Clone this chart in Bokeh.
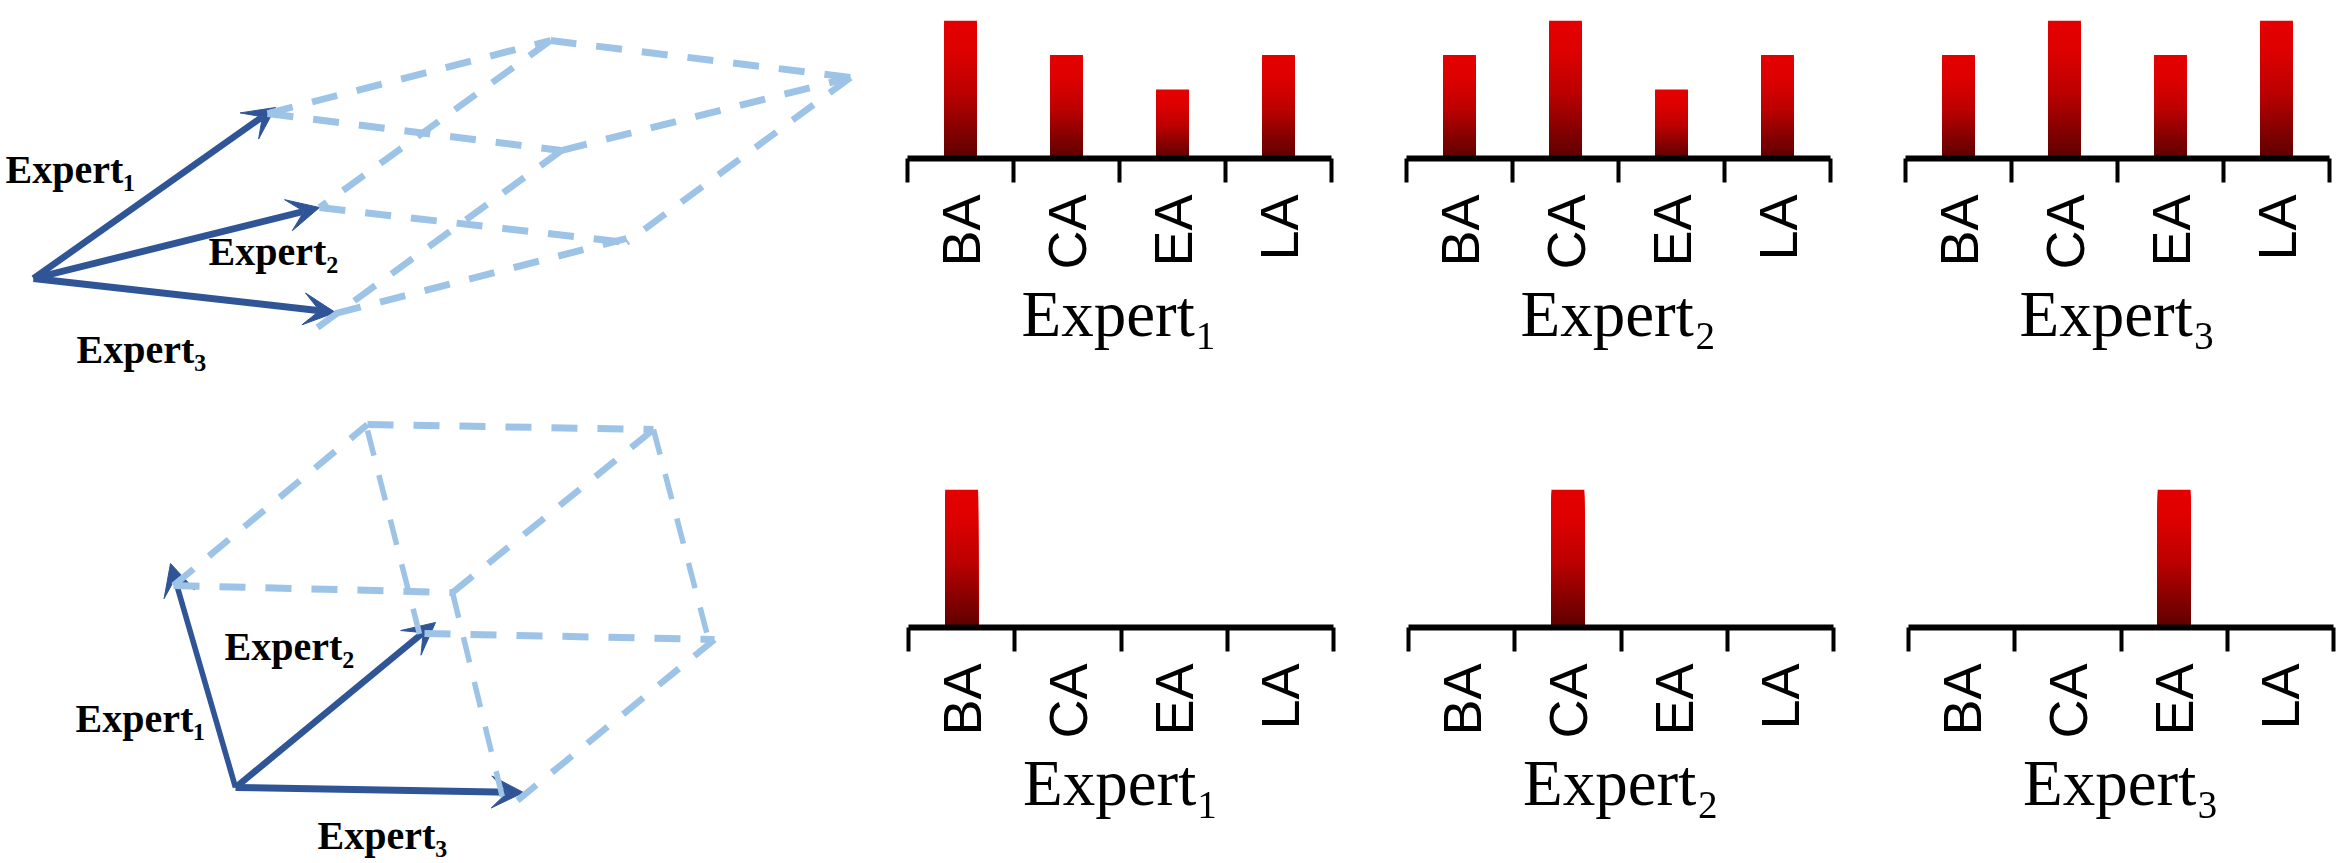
from bokeh.plotting import figure
from bokeh.embed import file_html
from bokeh.resources import INLINE
from bokeh.layouts import row, column
from bokeh.core.properties import value
from bokeh.models import Range1d, LinearAxis, FixedTicker, Arrow, VeeHead
from math import pi, hypot

# ---- data -------------------------------------------------------------
categories = ["BA", "CA", "EA", "LA"]
expert_titles = ["Expert\u2081", "Expert\u2082", "Expert\u2083"]

top_expert1 = [0.4, 0.3, 0.2, 0.3]
top_expert2 = [0.3, 0.4, 0.2, 0.3]
top_expert3 = [0.3, 0.4, 0.3, 0.4]
bot_expert1 = [1, 0, 0, 0]
bot_expert2 = [0, 1, 0, 0]
bot_expert3 = [0, 0, 1, 0]

# vector diagrams: (x0, y0, x1, y1)
top_vectors = [(33, 278, 275, 107), (33, 278, 319, 207), (33, 278, 335, 312)]
top_dashes = [(267, 113, 550, 40), (550, 40, 850, 77), (267, 113, 561, 150), (561, 150, 850, 77),
              (550, 40, 319, 207), (850, 77, 626, 242), (561, 150, 317, 327),
              (319, 207, 626, 242), (335, 313, 626, 238)]
bot_vectors = [(235, 787, 170, 563), (235, 787, 435, 622), (235, 787, 523, 792)]
bot_dashes = [(173, 585, 367, 424), (367, 424, 653, 429), (173, 585, 452, 592), (452, 592, 653, 429),
              (367, 430, 424, 653), (653, 429, 708, 639), (452, 592, 502, 797),
              (424, 633, 714, 639), (714, 639, 517, 800)]
diagram_labels = [("Expert\u2081", 5, 169), ("Expert\u2082", 208, 251), ("Expert\u2083", 76, 349),
                  ("Expert\u2082", 224, 646), ("Expert\u2081", 75, 718), ("Expert\u2083", 317, 835)]

DARK = "#2F5597"
LIGHT = "#9DC3E6"

def stroke(s):
    # the source picture is stretched sideways, so flat strokes look heavier than steep ones
    return 5 + 2 * abs(s[2] - s[0]) / hypot(s[2] - s[0], s[3] - s[1])

# ---- vector diagrams ---------------------------------------------------
vec = figure(width=880, height=863, x_range=Range1d(0, 880), y_range=Range1d(863, 0),
             x_axis_location=None, y_axis_location=None, toolbar_location=None,
             output_backend="svg", min_border=0, outline_line_color=None)
vec.grid.visible = False
for v in top_vectors + bot_vectors:
    a = Arrow(end=VeeHead(size=32, fill_color=DARK, line_color=DARK, line_width=1),
              x_start=v[0], y_start=v[1], x_end=v[2], y_end=v[3],
              line_color=DARK, line_width=stroke(v), level="underlay")
    vec.add_layout(a)
for d in top_dashes + bot_dashes:
    vec.segment(x0=[d[0]], y0=[d[1]], x1=[d[2]], y1=[d[3]], line_color=LIGHT,
                line_width=stroke(d), line_dash="26 20")
vec.text(x=[l[1] for l in diagram_labels], y=[l[2] for l in diagram_labels],
         text=[l[0] for l in diagram_labels], text_font=value("Liberation Serif"),
         text_font_style="bold", text_font_size="40px", text_color="#000000",
         text_align="left", text_baseline="alphabetic")

# ---- gradient ----------------------------------------------------------
def shade(f):
    stops = [(0, (90, 0, 0)), (0.5, (190, 0, 0)), (0.8, (222, 0, 0)), (1, (228, 0, 0))]
    for (a, ca), (b, cb) in zip(stops, stops[1:]):
        if f <= b:
            t = (f - a) / (b - a)
            return "#%02x%02x%02x" % tuple(round(x + (y - x) * t) for x, y in zip(ca, cb))
    return "#e40000"

def panel(vals, title, ymax, fw, left, right, top, bottom):
    n = len(categories)
    p = figure(frame_width=fw, frame_height=138, x_range=Range1d(0, n),
               y_range=Range1d(0, ymax), x_axis_location=None, y_axis_location=None,
               toolbar_location=None, output_backend="svg", outline_line_color=None,
               min_border_left=left, min_border_right=right, min_border_top=top,
               min_border_bottom=bottom)
    p.grid.visible = False
    edges = LinearAxis(ticker=FixedTicker(ticks=list(range(n + 1))),
                       axis_line_width=6, axis_line_color="#000000",
                       major_tick_line_width=4, major_tick_line_color="#000000",
                       major_tick_out=24, major_tick_in=0, minor_tick_line_color=None,
                       major_label_text_color=None, major_label_text_font_size="1px",
                       major_label_standoff=0)
    p.add_layout(edges, "below")
    centres = [i + 0.5 for i in range(n)]
    cat = LinearAxis(ticker=FixedTicker(ticks=centres),
                     major_label_overrides=dict(zip(centres, categories)),
                     axis_line_color=None, major_tick_line_color=None, major_tick_out=0,
                     major_tick_in=0, minor_tick_line_color=None,
                     major_label_orientation=pi / 2, major_label_standoff=12,
                     major_label_text_font="Liberation Sans",
                     major_label_text_font_size="54px", major_label_text_color="#000000",
                     axis_label=title, axis_label_text_font="Liberation Serif",
                     axis_label_text_font_style="normal", axis_label_text_font_size="65px",
                     axis_label_text_color="#000000", axis_label_standoff=5)
    p.add_layout(cat, "below")
    for c, v in zip(centres, vals):
        if v > 0:
            for i in range(46, 0, -1):
                f = i / 46
                p.vbar(x=[c], top=[v * f], bottom=[0], width=0.31, fill_color=shade(f), line_color=None)
    return p

row1 = row(panel(top_expert1, expert_titles[0], 0.4, 424, 27, 39, 20, 0),
           panel(top_expert2, expert_titles[1], 0.4, 424, 36, 40, 20, 0),
           panel(top_expert3, expert_titles[2], 0.4, 424, 35, 12, 20, 0), spacing=0)
row2 = row(panel(bot_expert1, expert_titles[0], 1, 425, 28, 37, 137, 0),
           panel(bot_expert2, expert_titles[1], 1, 425, 38, 37, 137, 0),
           panel(bot_expert3, expert_titles[2], 1, 425, 38, 8, 137, 0), spacing=0)

root = row(vec, column(row1, row2, spacing=0), spacing=0,
           styles={"position": "absolute", "left": "0px", "top": "0px"})
open("out.html", "w").write(file_html(root, INLINE))
